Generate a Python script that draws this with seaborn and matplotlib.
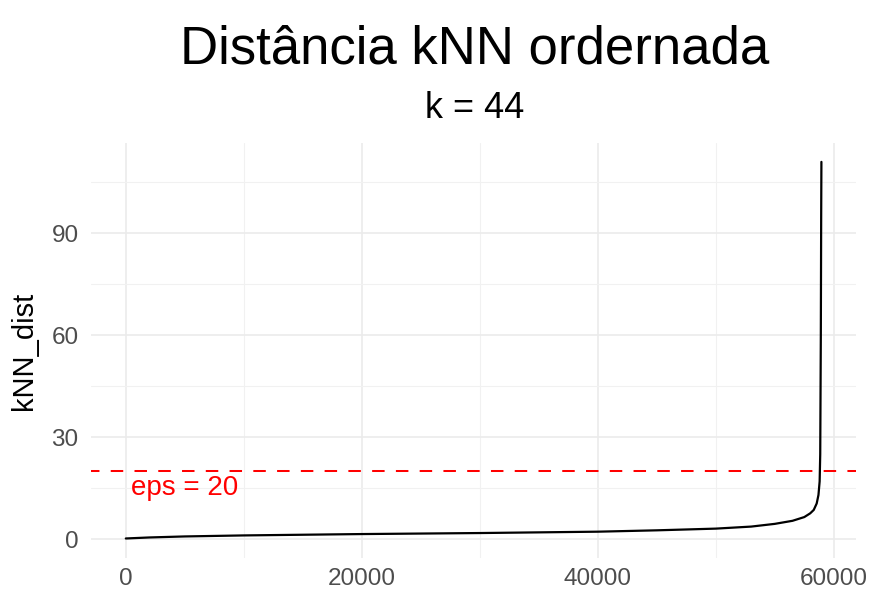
import matplotlib
matplotlib.use("Agg")
import matplotlib.pyplot as plt
from matplotlib.ticker import MultipleLocator
import seaborn as sns
import pandas as pd

# Data (sorted kNN distances, k = 44)
rank = [0, 2000, 5000, 10000, 20000, 30000, 40000, 45000, 50000, 53000,
        55000, 56500, 57500, 58000, 58300, 58550, 58700, 58800, 58850,
        58900, 58930, 58950]
knn_dist = [0.2, 0.5, 0.8, 1.1, 1.5, 1.8, 2.2, 2.6, 3.1, 3.7,
            4.5, 5.4, 6.5, 7.6, 8.6, 10.5, 13.0, 17.0, 25.0,
            60.0, 95.0, 111.0]
eps = 20
title = "Distância kNN ordernada"
subtitle = "k = 44"
x_major = [0, 20000, 40000, 60000]
y_major = [0, 30, 60, 90]

df = pd.DataFrame({"rank": rank, "kNN_dist": knn_dist})

sns.set_theme(style="white")
plt.rcParams["font.family"] = ["Liberation Sans", "DejaVu Sans"]

fig = plt.figure(figsize=(8.71, 5.90), dpi=100)
ax = fig.add_axes([0.1045, 0.0542, 0.983 - 0.1045, 0.7576 - 0.0542])

# grid (theme_minimal-like)
ax.set_xticks(x_major)
ax.set_yticks(y_major)
ax.xaxis.set_minor_locator(MultipleLocator(10000))
ax.yaxis.set_minor_locator(MultipleLocator(15))
ax.grid(which="major", color="#EBEBEB", linewidth=1.2)
ax.grid(which="minor", color="#F1F1F1", linewidth=0.8)
ax.set_axisbelow(True)
for s in ax.spines.values():
    s.set_visible(False)

sns.lineplot(data=df, x="rank", y="kNN_dist", color="black", linewidth=1.6,
             ax=ax, estimator=None, sort=True)

ax.axhline(eps, color="red", linewidth=1.45, linestyle=(2, (6.2, 5.6)))
ax.text(5000, 15, f"eps = {eps}", color="red", fontsize=20,
        ha="center", va="center")

xmin, xmax = min(rank), max(rank)
ymin, ymax = min(knn_dist + [0]), max(knn_dist)
xe = (xmax - xmin) * 0.05
ye = (ymax - ymin) * 0.05
ax.set_xlim(xmin - xe, xmax + xe)
ax.set_ylim(ymin - ye, ymax + ye)

ax.tick_params(axis="both", which="both", length=0, labelsize=17.5,
               labelcolor="#4D4D4D")
ax.tick_params(axis="x", pad=7)
ax.tick_params(axis="y", pad=9)
ax.set_xticklabels([str(v) for v in x_major])
ax.set_yticklabels([str(v) for v in y_major])

ax.set_xlabel("")
ax.set_ylabel("kNN_dist", fontsize=21, color="black")
ax.yaxis.set_label_coords(-0.069, 0.5)

fig.text(0.545, 1 - 63 / 590, title, fontsize=38, ha="center",
         va="baseline", color="black")
fig.text(0.545, 1 - 118 / 590, subtitle, fontsize=26, ha="center",
         va="baseline", color="black")

fig.savefig("out.png", dpi=100, facecolor="white")
